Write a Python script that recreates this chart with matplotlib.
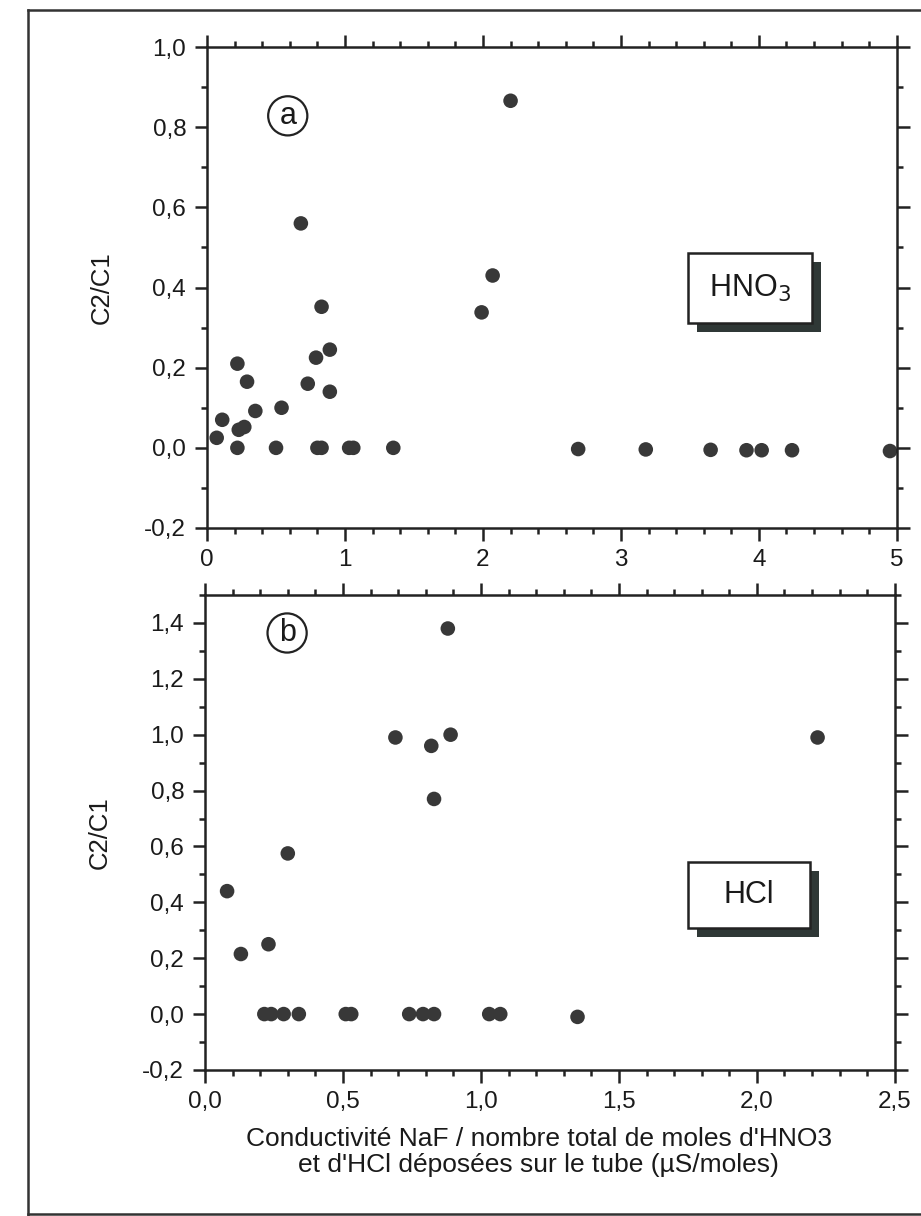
import matplotlib
matplotlib.use("Agg")
import matplotlib.pyplot as plt
import matplotlib.ticker as ticker
from matplotlib.patches import Rectangle
from matplotlib.lines import Line2D

plt.rcParams['font.family'] = ['Liberation Sans', 'DejaVu Sans']
plt.rcParams['axes.unicode_minus'] = False

# (a) HNO3
x_hno3 = [0.07, 0.11, 0.22, 0.22, 0.23, 0.27, 0.29, 0.35, 0.50, 0.54, 0.68,
          0.73, 0.79, 0.83, 0.89, 0.89, 0.80, 0.83, 1.03, 1.06, 1.35, 1.99,
          2.07, 2.20, 2.69, 3.18, 3.65, 3.91, 4.02, 4.24, 4.95]
y_hno3 = [0.025, 0.07, 0.21, 0.0, 0.045, 0.052, 0.165, 0.092, 0.0, 0.10, 0.56,
          0.16, 0.225, 0.352, 0.245, 0.14, 0.0, 0.0, 0.0, 0.0, 0.0, 0.338,
          0.43, 0.866, -0.003, -0.004, -0.005, -0.006, -0.006, -0.006, -0.008]

# (b) HCl
x_hcl = [0.08, 0.13, 0.23, 0.30, 0.215, 0.24, 0.285, 0.34, 0.51, 0.53, 0.69,
         0.74, 0.79, 0.83, 0.82, 0.83, 0.88, 0.89, 1.03, 1.07, 1.35, 2.22]
y_hcl = [0.44, 0.215, 0.25, 0.575, 0.0, 0.0, 0.0, 0.0, 0.0, 0.0, 0.99,
         0.0, 0.0, 0.0, 0.96, 0.77, 1.38, 1.0, 0.0, 0.0, -0.01, 0.99]

ylabel = "C2/C1"
xlabel = "Conductivité NaF / nombre total de moles d'HNO3\net d'HCl déposées sur le tube (µS/moles)"

dot = '#383838'
ink = '#222222'

fig = plt.figure(figsize=(9.21, 12.16), dpi=100)
fig.patch.set_facecolor('white')

ax1 = fig.add_axes([0.2248, 0.5658, 0.749, 0.3955])
ax2 = fig.add_axes([0.2226, 0.1201, 0.749, 0.3906])


def comma(v, pos):
    s = ('%.1f' % v).replace('.', ',')
    if s == '-0,0':
        s = '0,0'
    return s


def style(ax):
    for sp in ax.spines.values():
        sp.set_linewidth(1.8)
        sp.set_color(ink)
    ax.tick_params(which='both', direction='out', top=True, right=True,
                   width=1.8, color=ink, labelsize=17.5, labelcolor='#1a1a1a', pad=6)
    ax.tick_params(which='major', length=9)
    ax.tick_params(which='minor', length=4.5)
    ax.set_ylabel(ylabel, fontsize=18.5, labelpad=22, color='#1a1a1a')


def tag_box(ax, txt, x0, y0, w, h):
    # shadowed label box, drawn in axes fraction
    ax.add_patch(Rectangle((x0 + 0.013, y0 - 0.019), w, h, transform=ax.transAxes,
                           facecolor='#2f3836', edgecolor='none', zorder=3))
    ax.add_patch(Rectangle((x0, y0), w, h, transform=ax.transAxes,
                           facecolor='white', edgecolor=ink, linewidth=1.8, zorder=4))
    ax.text(x0 + w / 2, y0 + h / 2, txt, transform=ax.transAxes, ha='center',
            va='center', fontsize=22, color='#1a1a1a', zorder=5)


# top panel
ax1.scatter(x_hno3, y_hno3, s=110, color=dot, edgecolors='none', zorder=2, clip_on=False)
ax1.set_xlim(0, 5)
ax1.set_ylim(-0.2, 1.0)
ax1.xaxis.set_major_locator(ticker.MultipleLocator(1))
ax1.xaxis.set_minor_locator(ticker.MultipleLocator(0.2))
ax1.yaxis.set_major_locator(ticker.MultipleLocator(0.2))
ax1.yaxis.set_minor_locator(ticker.MultipleLocator(0.1))
ax1.xaxis.set_major_formatter(ticker.FuncFormatter(lambda v, p: '%d' % round(v)))
ax1.yaxis.set_major_formatter(ticker.FuncFormatter(comma))
style(ax1)
tag_box(ax1, 'HNO$_3$', 0.697, 0.426, 0.180, 0.146)
ax1.text(0.117, 0.857, 'a', transform=ax1.transAxes, ha='center', va='center',
         fontsize=22, color='#1a1a1a',
         bbox=dict(boxstyle='circle,pad=0.15', facecolor='white', edgecolor=ink, linewidth=1.6))

# bottom panel
ax2.scatter(x_hcl, y_hcl, s=110, color=dot, edgecolors='none', zorder=2, clip_on=False)
ax2.set_xlim(0, 2.5)
ax2.set_ylim(-0.2, 1.5)
ax2.xaxis.set_major_locator(ticker.MultipleLocator(0.5))
ax2.xaxis.set_minor_locator(ticker.MultipleLocator(0.1))
ax2.yaxis.set_major_locator(ticker.FixedLocator([-0.2, 0.0, 0.2, 0.4, 0.6, 0.8, 1.0, 1.2, 1.4]))
ax2.yaxis.set_minor_locator(ticker.MultipleLocator(0.1))
ax2.xaxis.set_major_formatter(ticker.FuncFormatter(comma))
ax2.yaxis.set_major_formatter(ticker.FuncFormatter(comma))
style(ax2)
tag_box(ax2, 'HCl', 0.700, 0.299, 0.177, 0.139)
ax2.text(0.119, 0.920, 'b', transform=ax2.transAxes, ha='center', va='center',
         fontsize=22, color='#1a1a1a',
         bbox=dict(boxstyle='circle,pad=0.15', facecolor='white', edgecolor=ink, linewidth=1.6))

fig.text(0.585, 0.0525, xlabel, ha='center', va='center', fontsize=19,
         color='#1a1a1a', linespacing=1.12)

# outer frame around the whole figure
W, H = 921.0, 1216.0
fig.add_artist(Line2D([28 / W, 28 / W], [0, 1 - 10 / H], color='#333333', lw=1.8))
fig.add_artist(Line2D([28 / W, 1], [1 - 10 / H, 1 - 10 / H], color='#333333', lw=1.8))
fig.add_artist(Line2D([28 / W, 1], [2 / H, 2 / H], color='#333333', lw=1.8))

fig.savefig('out.png', dpi=100, facecolor='white')
